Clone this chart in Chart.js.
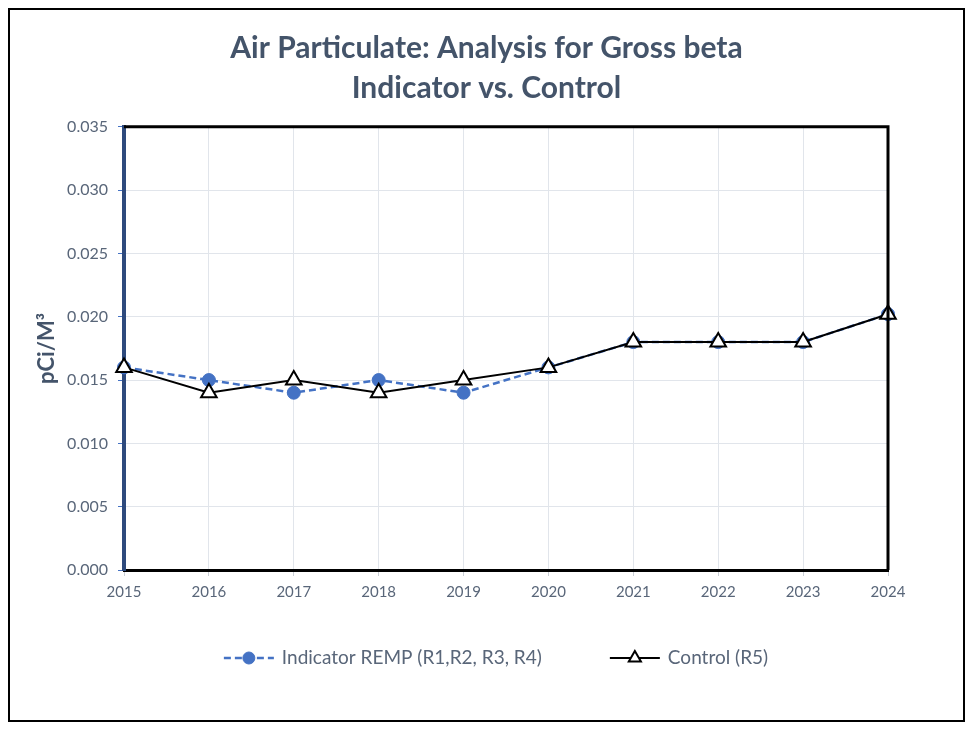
<!DOCTYPE html>
<html>
<head>
<meta charset="utf-8">
<script src="https://cdn.jsdelivr.net/npm/chart.js@4"></script>
<style>
    html, body { margin: 0; padding: 0; background: #fff; }
    #wrap { width: 973px; height: 730px; }
</style>
</head>
<body>
<div id="wrap"><canvas id="lineChart" width="973" height="730"></canvas></div>
<script>
// Chart data
const years = ['2015', '2016', '2017', '2018', '2019', '2020', '2021', '2022', '2023', '2024'];
const indicatorValues = [0.016, 0.015, 0.014, 0.015, 0.014, 0.016, 0.018, 0.018, 0.018, 0.0202];
const controlValues = [0.016, 0.014, 0.015, 0.014, 0.015, 0.016, 0.018, 0.018, 0.018, 0.0202];
const seriesNames = ['Indicator REMP (R1,R2, R3, R4)', 'Control (R5)'];
const chartTitle = ['Air Particulate: Analysis for Gross beta', 'Indicator vs. Control'];
const yAxisTitle = 'pCi/M³';

const fontFamily = 'Lato, "Open Sans", sans-serif';
const textColor = '#44546A';
const tickColor = '#596679';
const gridColor = '#E1E5EB';

// Frame, plot border and legend
const decorations = {
    id: 'decorations',
    beforeDraw(chart) {
        const ctx = chart.ctx;
        ctx.save();
        ctx.fillStyle = '#fff';
        ctx.fillRect(0, 0, chart.width, chart.height);
        ctx.restore();
    },
    afterDatasetsDraw(chart) {
        const ctx = chart.ctx;
        const a = chart.chartArea;
        ctx.save();
        ctx.strokeStyle = '#000';
        ctx.lineWidth = 3;
        ctx.beginPath();
        ctx.moveTo(a.left, a.top);
        ctx.lineTo(a.right, a.top);
        ctx.lineTo(a.right, a.bottom);
        ctx.stroke();
        ctx.restore();
    },
    afterDraw(chart) {
        const ctx = chart.ctx;
        ctx.save();
        // outer frame
        ctx.strokeStyle = '#000';
        ctx.lineWidth = 2;
        ctx.strokeRect(9, 9, chart.width - 18, chart.height - 18);

        // legend
        ctx.font = '19px ' + fontFamily;
        ctx.textBaseline = 'middle';
        const y = 658;
        const lineLen = 50;
        const gap = 8;
        const itemGap = 68;
        const ds = chart.data.datasets;
        const widths = ds.map(d => lineLen + gap + ctx.measureText(d.label).width);
        const total = widths[0] + itemGap + widths[1];
        let x = 496 - total / 2;
        ds.forEach((d, i) => {
            ctx.save();
            ctx.strokeStyle = d.borderColor;
            ctx.lineWidth = d.borderWidth;
            ctx.setLineDash(d.borderDash || []);
            ctx.beginPath();
            ctx.moveTo(x, y);
            ctx.lineTo(x + lineLen, y);
            ctx.stroke();
            ctx.setLineDash([]);
            ctx.fillStyle = d.pointBackgroundColor;
            ctx.strokeStyle = d.pointBorderColor;
            ctx.lineWidth = d.pointBorderWidth;
            Chart.helpers.drawPoint(ctx, {
                pointStyle: d.pointStyle,
                radius: d.pointStyle === 'triangle' ? 7 : 6,
                rotation: 0,
                borderWidth: d.pointBorderWidth
            }, x + lineLen / 2, y);
            ctx.restore();
            ctx.fillStyle = tickColor;
            ctx.fillText(d.label, x + lineLen + gap, y);
            x += widths[i] + itemGap;
        });
        ctx.restore();
    }
};

const ctx = document.getElementById('lineChart').getContext('2d');
const lineChart = new Chart(ctx, {
    type: 'line',
    data: {
        labels: years,
        datasets: [
            {
                label: seriesNames[0],
                data: indicatorValues,
                borderColor: '#4472C4',
                backgroundColor: '#4472C4',
                borderWidth: 2.5,
                borderDash: [7, 4],
                pointStyle: 'circle',
                pointRadius: 6.5,
                pointBackgroundColor: '#4472C4',
                pointBorderColor: '#4472C4',
                pointBorderWidth: 1,
                order: 1
            },
            {
                label: seriesNames[1],
                data: controlValues,
                borderColor: '#000',
                backgroundColor: '#fff',
                borderWidth: 2,
                pointStyle: 'triangle',
                pointRadius: 9,
                pointBackgroundColor: '#fff',
                pointBorderColor: '#000',
                pointBorderWidth: 2,
                order: 0
            }
        ]
    },
    options: {
        responsive: false,
        animation: false,
        layout: { padding: 0 },
        plugins: {
            legend: { display: false },
            tooltip: { enabled: false },
            title: {
                display: true,
                text: chartTitle,
                color: textColor,
                font: { family: fontFamily, size: 30, weight: 'bold', lineHeight: 1.33 },
                padding: { top: 28, bottom: 19 }
            }
        },
        scales: {
            x: {
                offset: false,
                grid: {
                    color: c => c.index === 0 ? 'rgba(0,0,0,0)' : gridColor,
                    lineWidth: 1, tickLength: 6, tickColor: '#C9CED6'
                },
                border: { color: '#000', width: 3 },
                ticks: {
                    color: tickColor,
                    padding: 7,
                    maxRotation: 0,
                    font: { family: fontFamily, size: 15 }
                },
                afterFit(scale) { scale.height = 160; }
            },
            y: {
                min: 0,
                max: 0.035,
                grid: {
                    color: c => c.index === 0 ? 'rgba(0,0,0,0)' : gridColor,
                    lineWidth: 1, tickLength: 6, tickColor: '#4472C4'
                },
                border: { color: '#2E4A7D', width: 4 },
                ticks: {
                    stepSize: 0.005,
                    color: tickColor,
                    padding: 10,
                    font: { family: fontFamily, size: 16 },
                    callback: v => v.toFixed(3)
                },
                title: {
                    display: true,
                    text: yAxisTitle,
                    color: textColor,
                    font: { family: fontFamily, size: 22, weight: 'bold', lineHeight: 1.2 },
                    padding: { top: 34, bottom: 0 }
                },
                afterFit(scale) { scale.width = 124; }
            },
            // empty right-hand axis that only reserves space so the title centres on the page
            spacer: {
                position: 'right',
                display: true,
                grid: { display: false },
                border: { display: false },
                ticks: { display: false },
                afterFit(scale) { scale.width = 85; }
            }
        }
    },
    plugins: [decorations]
});
</script>
</body>
</html>
